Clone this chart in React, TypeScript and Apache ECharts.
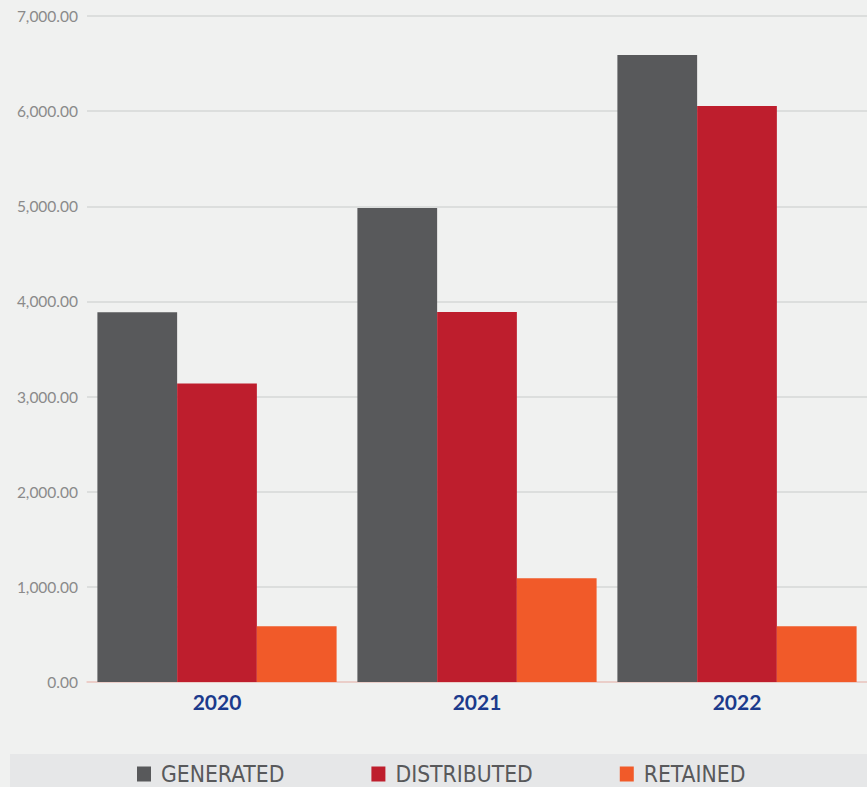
import React, { useEffect, useRef } from "react";
import * as echarts from "echarts";

const years = ["2020", "2021", "2022"];
const generated = [3885, 4981, 6590];
const distributed = [3137, 3888, 6054];
const retained = [586, 1090, 586];

const seriesNames = ["GENERATED", "DISTRIBUTED", "RETAINED"];
const seriesColors = ["#58595b", "#be1e2d", "#f15a29"];

export default function App() {
  const ref = useRef<HTMLDivElement>(null);

  useEffect(() => {
    document.body.style.margin = "0";
    const chart = echarts.init(ref.current!, null, { renderer: "svg" });
    const values = [generated, distributed, retained];
    chart.setOption({
      animation: false,
      backgroundColor: "#f0f1f0",
      graphic: [
        {
          type: "rect",
          left: 10,
          top: 754,
          shape: { width: 857, height: 33 },
          style: { fill: "#e6e7e8" },
          z: -1,
        },
      ],
      legend: {
        left: 137,
        top: 762,
        padding: 0,
        itemWidth: 14,
        itemHeight: 15,
        itemGap: 87,
        icon: "rect",
        textStyle: {
          color: "#58595b",
          fontSize: 22.7,
          lineHeight: 24,
          padding: [0, 0, 0, 5],
          fontFamily: "DejaVu Sans Condensed",
        },
        data: seriesNames,
      },
      grid: { left: 87, right: 0, top: 16, bottom: 105, containLabel: false },
      xAxis: {
        type: "category",
        data: years,
        axisTick: { show: false },
        axisLine: { lineStyle: { color: "#efc9c2", width: 1.5 } },
        axisLabel: {
          color: "#1b3a8c",
          fontWeight: "bold",
          fontSize: 21,
          fontFamily: "Lato",
          margin: 9,
        },
      },
      yAxis: {
        type: "value",
        min: 0,
        max: 7000,
        interval: 1000,
        axisLabel: {
          color: "#8a8a8a",
          fontSize: 15.5,
          fontFamily: "Lato",
          margin: 9,
          formatter: (v: number) =>
            v.toLocaleString("en-US", { minimumFractionDigits: 2, maximumFractionDigits: 2 }),
        },
        splitLine: { lineStyle: { color: "#d6d7d7", width: 1.5 } },
      },
      series: seriesNames.map((name, i) => ({
        name,
        type: "bar",
        data: values[i],
        barGap: "0%",
        barCategoryGap: "8%",
        itemStyle: { color: seriesColors[i] },
      })),
    });
    return () => chart.dispose();
  }, []);

  return (
    <div
      ref={ref}
      style={{ position: "fixed", left: 0, top: 0, width: 867, height: 787 }}
    />
  );
}
